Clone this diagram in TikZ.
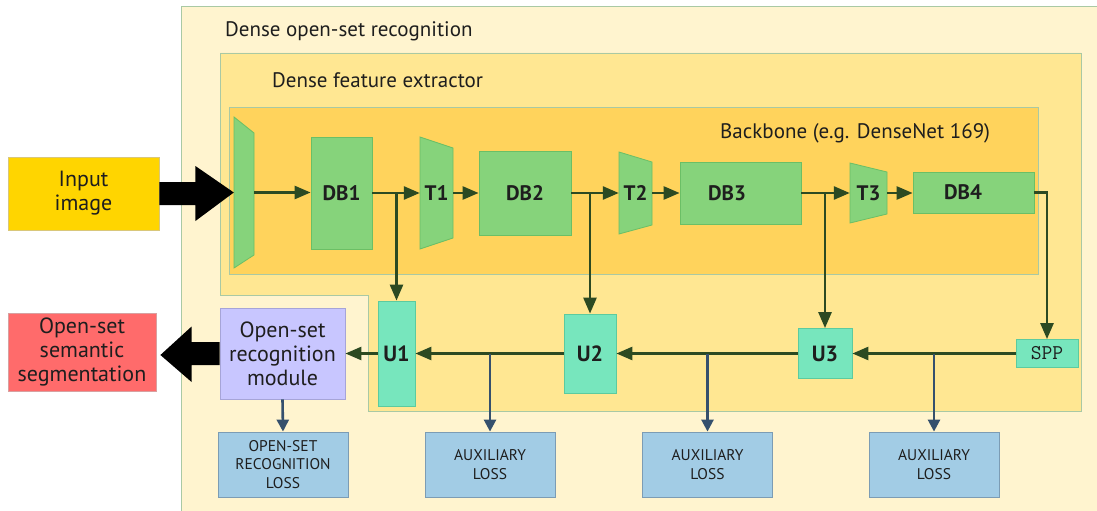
\documentclass[tikz,border=0pt]{standalone}
\usepackage{fontspec}
\setmainfont{PT Sans}
\usetikzlibrary{arrows.meta,calc}

\definecolor{outerfill}{HTML}{FFF4CF}
\definecolor{outerdraw}{HTML}{A9C9A4}
\definecolor{dfefill}{HTML}{FFE792}
\definecolor{bbfill}{HTML}{FFD35C}
\definecolor{blockfill}{HTML}{86D37B}
\definecolor{blockdraw}{HTML}{6BBF66}
\definecolor{upfill}{HTML}{77E6BD}
\definecolor{updraw}{HTML}{5CCB9F}
\definecolor{inputfill}{HTML}{FFD500}
\definecolor{inputdraw}{HTML}{D9C77A}
\definecolor{segfill}{HTML}{FF6B6B}
\definecolor{segdraw}{HTML}{D8A0A0}
\definecolor{modfill}{HTML}{C8C6FF}
\definecolor{moddraw}{HTML}{A6A4D8}
\definecolor{lossfill}{HTML}{A2CCE5}
\definecolor{lossdraw}{HTML}{7C9CB4}
\definecolor{arrowgreen}{HTML}{2C4A22}
\definecolor{arrowblue}{HTML}{35506D}
\definecolor{textdark}{HTML}{1E1E1E}

\tikzset{
  frame/.style={line width=0.8pt, draw=outerdraw},
  box/.style={draw, line width=0.8pt, inner sep=0pt, align=center, text=textdark},
  dbbox/.style={box, fill=blockfill, draw=blockdraw, font=\bfseries\fontsize{21}{24}\selectfont},
  upbox/.style={box, fill=upfill, draw=updraw, font=\bfseries\fontsize{22}{24}\selectfont},
  trapnode/.style={inner sep=0pt, text=textdark, font=\bfseries\fontsize{21}{24}\selectfont},
  trapshape/.style={fill=blockfill, draw=blockdraw, line width=0.8pt},
  iofont/.style={font=\fontsize{22}{24}\selectfont},
  lossbox/.style={box, fill=lossfill, draw=lossdraw, font=\fontsize{15.5}{18.5}\selectfont, minimum width=130pt, minimum height=65pt},
  flow/.style={draw=arrowgreen, line width=2.6pt, -{Triangle[length=16pt,width=13pt,fill=arrowgreen]}},
  lossflow/.style={draw=arrowblue, line width=2.6pt, -{Triangle[length=12pt,width=12pt,fill=arrowblue]}},
  title/.style={anchor=west, text=textdark, inner sep=0pt, font=\fontsize{21}{24}\selectfont}
}

\begin{document}
\begin{tikzpicture}[x=1pt,y=-1pt]
\clip (0,0) rectangle (1097,511);
\fill[white] (0,0) rectangle (1097,511);

% containers
\path[frame, fill=outerfill] (181,6) rectangle (1110,520);
\path[frame, fill=dfefill] (220,53) -- (1081,53) -- (1081,411) -- (368,411) -- (368,295) -- (220,295) -- cycle;
\path[frame, fill=bbfill] (229,107) rectangle (1038,274);

\node[title] (t0) at (225,31) {Dense open-set recognition};
\node[title] (t1) at (272,80) {Dense feature extractor};
\node[title] (t2) at (720,133) {Backbone (e.g. DenseNet 169)};

% trapezoids
\path[trapshape] (234,117) -- (254,133) -- (254,255) -- (234,268) -- cycle;
\node[trapnode, minimum width=20pt, minimum height=151pt] (enc) at (244,192.5) {};
\path[trapshape] (420,137) -- (453,148) -- (453,238) -- (420,249) -- cycle;
\node[trapnode, minimum width=33pt, minimum height=112pt] (T1) at (436.5,193) {T1};
\path[trapshape] (619,152) -- (652,162) -- (652,225) -- (619,234) -- cycle;
\node[trapnode, minimum width=33pt, minimum height=82pt] (T2) at (635.5,193) {T2};
\path[trapshape] (850,163) -- (887,172) -- (887,214) -- (850,223) -- cycle;
\node[trapnode, minimum width=37pt, minimum height=60pt] (T3) at (868.5,193) {T3};

% dense blocks
\node[dbbox, minimum width=61pt, minimum height=112pt] (DB1) at (341.5,193) {DB1};
\node[dbbox, minimum width=92pt, minimum height=84pt] (DB2) at (525,193) {DB2};
\node[dbbox, minimum width=121pt, minimum height=62pt, text width=111pt, align=left] (DB3) at (740.5,193) {\hspace*{23pt}DB3};
\node[dbbox, minimum width=121pt, minimum height=41pt, text width=111pt, align=left] (DB4) at (973.5,192.5) {\hspace*{26pt}DB4};

% upsampling
\node[upbox, minimum width=37pt, minimum height=105pt] (U1) at (396.5,353.5) {U1};
\node[upbox, minimum width=52pt, minimum height=79pt] (U2) at (590,353.5) {U2};
\node[upbox, minimum width=54pt, minimum height=50pt] (U3) at (825,353.5) {U3};
\node[box, fill=upfill, draw=updraw, minimum width=62pt, minimum height=28pt, font=\ttfamily\fontsize{21}{24}\selectfont] (SPP) at (1047,353.5) {SPP};

% io boxes
\node[box, iofont, fill=inputfill, draw=inputdraw, minimum width=151pt, minimum height=73pt] (input) at (83.5,193.5) {Input\\image};
\node[box, iofont, fill=modfill, draw=moddraw, minimum width=125pt, minimum height=91pt] (mod) at (282.5,353.5) {Open-set\\recognition\\module};
\node[box, iofont, fill=segfill, draw=segdraw, minimum width=148pt, minimum height=78pt] (seg) at (82,352) {Open-set\\semantic\\segmentation};

% losses
\node[lossbox] (L0) at (283,464.5) {OPEN-SET\\RECOGNITION\\LOSS};
\node[lossbox] (L1) at (490,464.5) {AUXILIARY\\LOSS};
\node[lossbox] (L2) at (707.5,464.5) {AUXILIARY\\LOSS};
\node[lossbox] (L3) at (934,464.5) {AUXILIARY\\LOSS};

% big arrows
\fill[black] ($(input.east)+(0,-11.5)$) -- ++(36,0) -- ++(0,-16) -- (enc.west)
  -- ($(input.east)+(36,27.5)$) -- ++(0,-16) -- ($(input.east)+(0,11.5)$) -- cycle;
\fill[black] ($(mod.west)+(0,-11.5)$) -- ++(-28,0) -- ++(-0,-15.5) -- ($(seg.east)+(4,3)$)
  -- ($(mod.west)+(-28,28.5)$) -- ++(0,-17) -- ($(mod.west)+(0,11.5)$) -- cycle;

% backbone flow
\draw[flow] (enc.east) -- (DB1.west |- enc.east);
\draw[flow] (DB1.east) -- (T1.west);
\draw[flow] (T1.east) -- (DB2.west);
\draw[flow] (DB2.east) -- (T2.west);
\draw[flow] (T2.east) -- (DB3.west);
\draw[flow] (DB3.east) -- (T3.west);
\draw[flow] (T3.east) -- (DB4.west |- T3.east);
\draw[flow] (DB4.east) -| (SPP.north);
\draw[flow] (U1.north |- DB1.east) -- (U1.north);
\draw[flow] (U2.north |- DB2.east) -- (U2.north);
\draw[flow] (U3.north |- DB3.east) -- (U3.north);

% upsampling path
\draw[flow] (SPP.west) -- (U3.east);
\draw[flow] (U3.west) -- (U2.east);
\draw[flow] (U2.west) -- (U1.east);
\draw[flow] (U1.west) -- (mod.east);

% losses
\draw[lossflow] (mod.south) -- (L0.north);
\draw[lossflow] (L1.north |- U1.east) -- (L1.north);
\draw[lossflow] (L2.north |- U2.east) -- (L2.north);
\draw[lossflow] (L3.north |- U3.east) -- (L3.north);
\end{tikzpicture}
\end{document}
